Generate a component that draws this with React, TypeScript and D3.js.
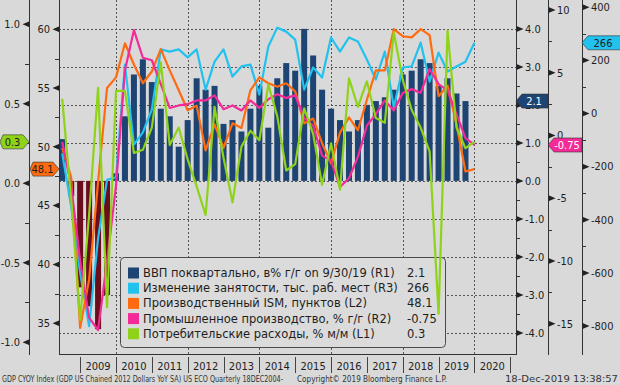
import * as d3 from 'd3';

// quarter-end points (bars stop at 2019Q3, lines run on to 2019Q4)
const quarters = [
  '2008Q2', '2008Q3', '2008Q4',
  '2009Q1', '2009Q2', '2009Q3', '2009Q4',
  '2010Q1', '2010Q2', '2010Q3', '2010Q4',
  '2011Q1', '2011Q2', '2011Q3', '2011Q4',
  '2012Q1', '2012Q2', '2012Q3', '2012Q4',
  '2013Q1', '2013Q2', '2013Q3', '2013Q4',
  '2014Q1', '2014Q2', '2014Q3', '2014Q4',
  '2015Q1', '2015Q2', '2015Q3', '2015Q4',
  '2016Q1', '2016Q2', '2016Q3', '2016Q4',
  '2017Q1', '2017Q2', '2017Q3', '2017Q4',
  '2018Q1', '2018Q2', '2018Q3', '2018Q4',
  '2019Q1', '2019Q2', '2019Q3', '2019Q4',
];

// ВВП г/г (R1), quarterly
const gdpYoY = [
  1.1, -0.4, -2.8,
  -3.3, -3.9, -3.0, 0.2,
  1.7, 2.8, 3.2, 2.6,
  1.9, 1.7, 0.9, 1.6,
  2.7, 2.4, 2.5, 1.5,
  1.6, 1.3, 1.9, 2.5,
  1.4, 2.7, 3.1, 2.9,
  4.0, 3.3, 2.4, 1.9,
  1.6, 1.3, 1.6, 2.0,
  2.1, 2.2, 2.4, 2.8,
  2.9, 3.2, 3.1, 2.5,
  2.7, 2.3, 2.1,
];

// Изменение занятости, тыс. (R3)
const payrolls = [
  -150, -350, -600,
  -800, -470, -250, -240,
  184, -117, -71, 15,
  241, 233, 241, 211,
  241, 90, 195, 241,
  139, 177, 184, 71,
  252, 323, 308, 278,
  90, 173, 135, 286,
  233, 286, 271, 203,
  128, 233, 23, 173,
  177, 267, 120, 229,
  158, 177, 195, 266,
];

// ISM (L2)
const ismMfg = [
  49.9, 47.4, 34.6,
  38.7, 47.0, 55.0, 55.9,
  58.8, 57.0, 55.4, 56.4,
  58.3, 56.5, 54.8, 53.1,
  53.5, 49.7, 51.9, 49.9,
  52.0, 51.6, 54.8, 55.9,
  55.4, 55.1, 55.4, 54.7,
  52.0, 52.4, 50.3, 48.6,
  51.2, 52.5, 51.4, 54.0,
  56.5, 56.5, 60.0, 59.4,
  59.3, 60.0, 59.5, 54.3,
  55.2, 51.9, 47.9, 48.1,
];

// Промышленное производство г/г (R2)
const indProd = [
  -0.5, -4.0, -10.0,
  -14.5, -15.5, -10.0, -4.0,
  5.2, 8.4, 6.2, 6.0,
  4.1, 2.2, 2.4, 2.5,
  2.8, 2.8, 3.2, 2.1,
  2.4, 2.0, 2.8, 2.2,
  2.9, 3.3, 3.0, 3.2,
  1.4, 0.8, -1.6, -2.0,
  -4.1, -3.4, -1.7, 0.8,
  1.7, 2.8, 2.0, 3.4,
  3.7, 3.4, 5.3, 4.1,
  3.6, 1.7, -0.2, -0.75,
];

// Потребительские расходы м/м (L1)
const pceMoM = [
  0.53, -0.1, -0.86,
  -0.2, 0.6, -0.78, 0.58,
  0.58, 0.19, 0.21, 0.35,
  0.76, 0.24, 0.35, 0.15,
  -0.02, -0.2, 0.48, 0.16,
  -0.12, 0.23, 0.33, 0.27,
  0.62, 0.42, 0.08, 0.12,
  0.47, 0.31, -0.01, 0.25,
  -0.04, 0.66, 0.48, 0.64,
  0.41, 0.38, 0.95, 0.65,
  0.46, 0.35, 0.2, -0.82,
  0.96, 0.35, 0.22, 0.26,
];

const yearLabels = ['2009', '2010', '2011', '2012', '2013', '2014', '2015', '2016', '2017', '2018', '2019', '2020'];

const l1Ticks = [-1, -0.5, 0, 0.5, 1];
const l1Minor = [-0.75, -0.25, 0.25, 0.75];
const l2Ticks = [35, 40, 45, 50, 55, 60];
const l2Minor = [37.5, 42.5, 47.5, 52.5, 57.5];
const r1Ticks = [-4, -3, -2, -1, 0, 1, 2, 3, 4];
const r1Minor = [-3.5, -2.5, -1.5, -0.5, 0.5, 1.5, 2.5, 3.5];
const r2Ticks = [-15, -10, -5, 0, 5, 10];
const r2Minor = [-12.5, -7.5, -2.5, 2.5, 7.5];
const r3Ticks = [-800, -600, -400, -200, 0, 200, 400];
const r3Minor = [-700, -500, -300, -100, 100, 300];

const NAVY = '#1d4472';
const MAROON = '#6b0d1d';
const CYAN = '#22c1ee';
const ORANGE = '#ff6b10';
const PINK = '#f42a98';
const GREEN = '#8ed319';
const BG = '#d9d9d9';
const INK = '#1e1e1e';
const FONT = "'DejaVu Sans Condensed', 'DejaVu Sans', sans-serif";

const toYear = (q: string) => +q.slice(0, 4) + +q.slice(5) / 4;

const W = 620;
const H = 385;
const left = 59, right = 516, top = 0, bottom = 354;

const x = d3.scaleLinear().domain([2008.41, 2021.16]).range([left, right]);
const yR1 = d3.scaleLinear().domain([-4.555, 4.76]).range([bottom, top]);
const yL1 = d3.scaleLinear().domain([-1.074, 1.152]).range([bottom, top]);
const yL2 = d3.scaleLinear().domain([32.38, 62.48]).range([bottom, top]);
const yR2 = d3.scaleLinear().domain([-17.4, 10.8]).range([bottom, top]);
const yR3 = d3.scaleLinear().domain([-905, 427]).range([bottom, top]);

const axes = [
  { ax: 29, side: -1, scale: yL1, ticks: l1Ticks, minor: l1Minor, fmt: (v: number) => v.toFixed(1) },
  { ax: 59, side: -1, scale: yL2, ticks: l2Ticks, minor: l2Minor, fmt: (v: number) => String(v) },
  { ax: 516, side: 1, scale: yR1, ticks: r1Ticks, minor: r1Minor, fmt: (v: number) => v.toFixed(1) },
  { ax: 548, side: 1, scale: yR2, ticks: r2Ticks, minor: r2Minor, fmt: (v: number) => String(v) },
  { ax: 582, side: 1, scale: yR3, ticks: r3Ticks, minor: r3Minor, fmt: (v: number) => String(v) },
];

const lineSeries = [
  { data: payrolls, scale: yR3, color: CYAN },
  { data: ismMfg, scale: yL2, color: ORANGE },
  { data: indProd, scale: yR2, color: PINK },
  { data: pceMoM, scale: yL1, color: GREEN },
];

const last = (a: number[]) => a[a.length - 1];

const legendItems = [
  { label: 'ВВП поквартально, в% г/г on 9/30/19 (R1)', value: last(gdpYoY).toFixed(1), color: NAVY },
  { label: 'Изменение занятости, тыс. раб. мест (R3)', value: String(last(payrolls)), color: CYAN },
  { label: 'Производственный ISM, пунктов (L2)', value: last(ismMfg).toFixed(1), color: ORANGE },
  { label: 'Промышленное производство, % г/г (R2)', value: String(last(indProd)), color: PINK },
  { label: 'Потребительские расходы, % м/м (L1)', value: last(pceMoM).toFixed(1), color: GREEN },
];

// value tags sitting on the axes
const tags = [
  { ax: 29, side: -1, x0: 0, y: yL1(last(pceMoM)), text: last(pceMoM).toFixed(1), fill: GREEN, color: INK },
  { ax: 59, side: -1, x0: 30, y: yL2(last(ismMfg)), text: last(ismMfg).toFixed(1), fill: ORANGE, color: INK },
  { ax: 516, side: 1, x0: 548, y: yR1(last(gdpYoY)), text: last(gdpYoY).toFixed(1), fill: NAVY, color: '#fff' },
  { ax: 548, side: 1, x0: 582, y: yR2(last(indProd)), text: String(last(indProd)), fill: PINK, color: '#fff' },
  { ax: 582, side: 1, x0: 625, y: yR3(last(payrolls)), text: String(last(payrolls)), fill: CYAN, color: INK },
];

function tagPath(t: typeof tags[number]) {
  const h = 7;
  if (t.side < 0) {
    return `M${t.x0 + 3},${t.y - h} L${t.ax - 6},${t.y - h} L${t.ax},${t.y} L${t.ax - 6},${t.y + h} L${t.x0 + 3},${t.y + h} L${t.x0},${t.y} Z`;
  }
  return `M${t.ax},${t.y} L${t.ax + 6},${t.y - h} L${t.x0},${t.y - h} L${t.x0},${t.y + h} L${t.ax + 6},${t.y + h} Z`;
}

export default function App() {
  const barW = 6;
  const yearTicks = yearLabels.map((y) => +y).concat([2021]);
  const gridYears = [2010, 2012, 2014, 2016, 2018, 2020];

  return (
    <svg width={W} height={H} style={{ position: 'absolute', left: 0, top: 0, background: BG }} fontFamily={FONT}>
      <defs>
        <clipPath id="plot">
          <rect x={left} y={top} width={right - left} height={bottom - top} />
        </clipPath>
      </defs>
      <rect width={W} height={H} fill={BG} />

      {/* grid */}
      <g stroke="#555" strokeWidth={1} strokeDasharray="2,2">
        {r1Ticks.map((t) => (
          <line key={'h' + t} x1={left} x2={right} y1={Math.round(yR1(t)) + 0.5} y2={Math.round(yR1(t)) + 0.5} />
        ))}
        {gridYears.map((g) => (
          <line key={'v' + g} x1={Math.round(x(g)) + 0.5} x2={Math.round(x(g)) + 0.5} y1={top} y2={bottom} />
        ))}
      </g>

      {/* GDP bars */}
      <g clipPath="url(#plot)">
        {gdpYoY.map((v, i) => {
          const cx = x(toYear(quarters[i]));
          const y0 = yR1(0);
          const y1 = yR1(v);
          return (
            <rect key={i} x={cx - barW / 2} width={barW} y={Math.min(y0, y1)} height={Math.abs(y1 - y0)}
              fill={v < 0 ? MAROON : NAVY} />
          );
        })}
      </g>

      {/* legend box */}
      <rect x={120.5} y={257.5} width={325} height={90} rx={4} fill="#dbdbdb" stroke="#4a4a4a" strokeWidth={1} />

      {/* lines */}
      <g clipPath="url(#plot)" fill="none" strokeWidth={2.2} strokeLinejoin="round">
        {lineSeries.map((s, k) => {
          const line = d3.line<number>()
            .x((_, i) => x(toYear(quarters[i])))
            .y((d) => s.scale(d));
          return <path key={k} d={line(s.data) ?? ''} stroke={s.color} />;
        })}
      </g>

      {/* legend text */}
      <g fontSize={11.5} fill={INK} fontFamily="'DejaVu Sans', sans-serif">
        {legendItems.map((it, i) => (
          <g key={i} transform={`translate(0,${273 + i * 15.2})`}>
            <rect x={128} y={-5.5} width={11} height={11} fill={it.color} />
            <text x={143} dy="0.35em">{it.label}</text>
            <text x={407} dy="0.35em">{it.value}</text>
          </g>
        ))}
      </g>

      {/* plot frame */}
      <line x1={left} x2={right} y1={bottom + 0.5} y2={bottom + 0.5} stroke="#333" />

      {/* y axes */}
      {axes.map((a, k) => (
        <g key={k} fontSize={11} fill={INK}>
          <line x1={a.ax + 0.5} x2={a.ax + 0.5} y1={0} y2={bottom + 1} stroke="#333" />
          {a.minor.map((m) => (
            <line key={m} x1={a.ax} x2={a.ax + a.side * 4} y1={Math.round(a.scale(m)) + 0.5} y2={Math.round(a.scale(m)) + 0.5} stroke="#333" />
          ))}
          {a.ticks.map((t) => {
            const ty = a.scale(t);
            return (
              <g key={t}>
                <path d={`M${a.ax + 0.5},${ty - 3} L${a.ax + 0.5 + a.side * 7},${ty} L${a.ax + 0.5},${ty + 3} Z`} fill="#222" />
                <text x={a.ax + a.side * 9} y={ty} dy="0.35em" textAnchor={a.side < 0 ? 'end' : 'start'}>{a.fmt(t)}</text>
              </g>
            );
          })}
        </g>
      ))}

      {/* value tags */}
      {tags.map((t, k) => (
        <g key={k}>
          <path d={tagPath(t)} fill={t.fill} stroke="#333" strokeWidth={0.6} />
          <text x={t.side < 0 ? (t.x0 + t.ax - 4) / 2 : (t.ax + Math.min(t.x0, W) + 4) / 2} y={t.y} dy="0.35em"
            textAnchor="middle" fontSize={11} fill={t.color}>{t.text}</text>
        </g>
      ))}

      {/* x axis */}
      <g fontSize={11} fill={INK}>
        {yearTicks.map((yv) => (
          <line key={yv} x1={Math.round(x(yv)) + 0.5} x2={Math.round(x(yv)) + 0.5} y1={357} y2={373} stroke="#444" />
        ))}
        {yearLabels.map((yl) => (
          <text key={yl} x={x(+yl + 0.5)} y={366.5} dy="0.35em" textAnchor="middle">{yl}</text>
        ))}
      </g>

      {/* footer */}
      <g fontSize={8} fill="#333">
        <text x={2} y={382} textLength={281} lengthAdjust="spacingAndGlyphs">GDP CYOY Index (GDP US Chained 2012 Dollars YoY SA) US ECO  Quarterly 18DEC2004-</text>
        <text x={297} y={382} textLength={150} lengthAdjust="spacingAndGlyphs">Copyright© 2019 Bloomberg Finance L.P.</text>
        <text x={505} y={382} textLength={113} lengthAdjust="spacingAndGlyphs">18-Dec-2019 13:38:57</text>
      </g>
    </svg>
  );
}
